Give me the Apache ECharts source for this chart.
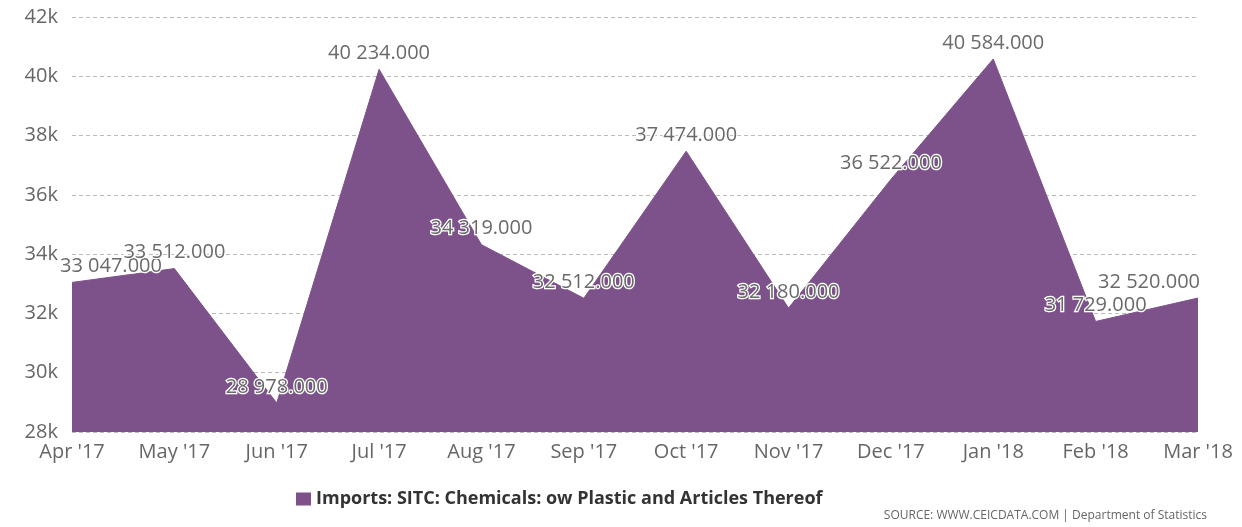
<!DOCTYPE html>
<html>
<head>
<meta charset="utf-8">
<script src="https://cdn.jsdelivr.net/npm/echarts@6/dist/echarts.min.js"></script>
<style>
    html, body { margin: 0; padding: 0; background: #fff; }
    #chart { width: 1242px; height: 527px; }
</style>
</head>
<body>
<div id="chart"></div>
<script>
var months = ["Apr '17", "May '17", "Jun '17", "Jul '17", "Aug '17", "Sep '17",
    "Oct '17", "Nov '17", "Dec '17", "Jan '18", "Feb '18", "Mar '18"];
var imports = [33047, 33512, 28978, 40234, 34319, 32512, 37474, 32180, 36522, 40584, 31729, 32520];
var seriesName = 'Imports: SITC: Chemicals: ow Plastic and Articles Thereof';
var sourceText = 'SOURCE: WWW.CEICDATA.COM | Department of Statistics';

function fmt(v) {
    var s = String(v);
    return s.slice(0, s.length - 3) + ' ' + s.slice(-3) + '.000';
}

var dom = document.getElementById('chart');
var myChart = echarts.init(dom);

// first and last labels are pushed inside the plot
var seriesData = imports.map(function (v, i) {
    var item = { value: v };
    if (i === 0) {
        item.label = { align: 'left', offset: [-12, 0] };
    } else if (i === imports.length - 1) {
        item.label = { align: 'right', offset: [2, 0] };
    }
    return item;
});

var option = {
    animation: false,
    textStyle: { fontFamily: 'Open Sans' },
    title: {
        text: sourceText,
        right: 30,
        bottom: 0,
        textStyle: { fontSize: 12, fontWeight: 'normal', color: '#666' }
    },
    legend: {
        data: [seriesName],
        left: 291,
        top: 485,
        icon: 'rect',
        itemWidth: 15,
        itemHeight: 13,
        itemGap: 4,
        textStyle: { fontSize: 18, color: '#333', fontWeight: 'bold' }
    },
    grid: {
        left: 72,
        right: 44,
        top: 17,
        bottom: 95
    },
    xAxis: {
        type: 'category',
        data: months,
        boundaryGap: false,
        axisLine: { show: false },
        axisTick: { show: false },
        axisLabel: { fontSize: 20, color: '#666', margin: 10 }
    },
    yAxis: {
        type: 'value',
        min: 28000,
        max: 42000,
        interval: 2000,
        axisLabel: {
            fontSize: 20,
            color: '#666',
            margin: 14,
            formatter: function (v) { return (v / 1000) + 'k'; }
        },
        splitLine: {
            lineStyle: { color: '#bbb', type: [4, 3], width: 1 }
        }
    },
    series: [
        {
            name: seriesName,
            type: 'line',
            data: seriesData,
            symbol: 'circle',
            symbolSize: 0.1,
            showSymbol: true,
            itemStyle: { color: '#7d518a' },
            lineStyle: { color: '#7d518a', width: 1 },
            areaStyle: { color: '#7d518a', opacity: 1, origin: 'start' },
            label: {
                show: true,
                position: 'top',
                distance: 6,
                fontSize: 20,
                color: '#6a6a6a',
                textBorderColor: '#fff',
                textBorderWidth: 2.5,
                formatter: function (p) { return fmt(p.value); }
            },
            z: 1
        }
    ]
};

myChart.setOption(option);
</script>
</body>
</html>
